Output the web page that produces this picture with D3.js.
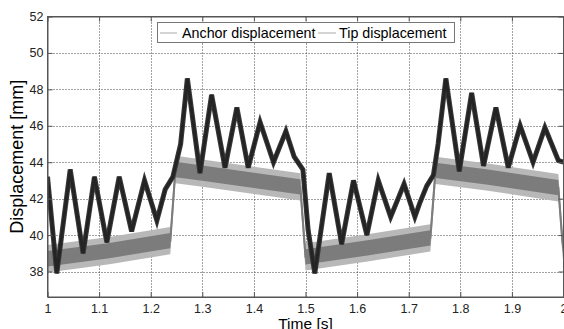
<!DOCTYPE html>
<html><head><meta charset="utf-8">
<script src="https://cdn.jsdelivr.net/npm/d3@7"></script>
<style>body{margin:0;background:#fff}svg{display:block}text{font-family:"Liberation Sans",Arial,sans-serif}</style>
</head><body>
<script>
// Data
const xTicks = [1, 1.1, 1.2, 1.3, 1.4, 1.5, 1.6, 1.7, 1.8, 1.9, 2];
const xTickLabels = ["1","1.1","1.2","1.3","1.4","1.5","1.6","1.7","1.8","1.9","2"];
const yTicks = [38, 40, 42, 44, 46, 48, 50, 52];
const seriesNames = ["Anchor displacement", "Tip displacement"];

const anchorTime  = [1.000, 1.120, 1.238, 1.248, 1.300, 1.400, 1.490, 1.500, 1.620, 1.742, 1.752, 1.850, 1.990, 1.998, 2.000];
const anchorValue = [38.7, 39.15, 39.7, 43.6, 43.4, 43.0, 42.65, 38.8, 39.3, 39.85, 43.55, 43.2, 42.6, 39.6, 39.3];

const tipTime  = [1.000, 1.018, 1.044, 1.069, 1.091, 1.115, 1.139, 1.163, 1.188, 1.212, 1.228, 1.243, 1.258, 1.271,
                  1.2955, 1.318, 1.344, 1.367, 1.389, 1.412, 1.438, 1.462, 1.478, 1.495, 1.505, 1.518,
                  1.546, 1.570, 1.593, 1.619, 1.641, 1.665, 1.691, 1.712, 1.722, 1.735, 1.748, 1.757, 1.772,
                  1.798, 1.822, 1.845, 1.869, 1.893, 1.916, 1.941, 1.964, 1.990, 2.000];
const tipValue = [43.2, 37.9, 43.6, 39.0, 43.2, 39.6, 43.2, 40.2, 43.0, 40.8, 42.5, 43.2, 45.0, 48.6,
                  43.4, 47.7, 43.7, 47.0, 43.7, 46.2, 44.0, 45.7, 44.3, 43.6, 40.3, 37.9,
                  43.4, 39.5, 43.0, 40.0, 43.0, 41.0, 42.8, 41.0, 41.8, 42.7, 43.3, 45.0, 48.6,
                  43.5, 47.8, 43.8, 47.0, 43.7, 46.0, 44.0, 45.9, 44.1, 44.0];

const W = 564, H = 329;
const m = {left: 47.5, right: 563.5, top: 16.5, bottom: 297};
const x = d3.scaleLinear().domain([1, 2]).range([m.left, m.right]);
const y = d3.scaleLinear().domain([36.6, 52]).range([m.bottom, m.top]);

const svg = d3.select("body").append("svg").attr("width", W).attr("height", H);

svg.append("defs").append("clipPath").attr("id", "clip")
  .append("rect").attr("x", m.left).attr("y", m.top)
  .attr("width", m.right - m.left).attr("height", m.bottom - m.top);

// grid
const grid = svg.append("g").attr("stroke", "#444").attr("stroke-width", 1).attr("stroke-dasharray", "1,2");
grid.selectAll(".gx").data(xTicks.slice(1, -1)).join("line")
  .attr("x1", d => Math.round(x(d)) + 0.5).attr("x2", d => Math.round(x(d)) + 0.5)
  .attr("y1", m.top).attr("y2", m.bottom);
grid.selectAll(".gy").data(yTicks.filter(d => d < 52)).join("line")
  .attr("y1", d => Math.round(y(d)) + 0.5).attr("y2", d => Math.round(y(d)) + 0.5)
  .attr("x1", m.left).attr("x2", m.right);

// series
const plot = svg.append("g").attr("clip-path", "url(#clip)");
function band(times, vals, half) {
  const pts = times.map((t, i) => [t, vals[i]]);
  return d3.area().x(d => x(d[0])).y0(d => y(d[1] - half)).y1(d => y(d[1] + half))(pts);
}
function lineOf(times, vals) {
  return d3.line().x((d, i) => x(times[i])).y(d => y(d))(vals);
}
plot.append("path").attr("d", band(anchorTime, anchorValue, 0.75)).attr("fill", "#b8b8b8");
plot.append("path").attr("d", band(anchorTime, anchorValue, 0.42)).attr("fill", "#7c7c7c");
plot.append("path").attr("d", lineOf(anchorTime, anchorValue)).attr("fill", "none")
  .attr("stroke", "#7c7c7c").attr("stroke-width", 2);
plot.append("path").attr("d", lineOf(tipTime, tipValue)).attr("fill", "none")
  .attr("stroke", "#3a3a3a").attr("stroke-width", 5)
  .attr("stroke-linejoin", "miter").attr("stroke-miterlimit", 4);
plot.append("path").attr("d", lineOf(tipTime, tipValue)).attr("fill", "none")
  .attr("stroke", "#242424").attr("stroke-width", 3)
  .attr("stroke-linejoin", "miter").attr("stroke-miterlimit", 4);

// axes (box with inward ticks)
const axisCol = "#555";
const gxB = svg.append("g").attr("transform", `translate(0,${m.bottom})`)
  .call(d3.axisBottom(x).tickValues(xTicks).tickFormat((d, i) => xTickLabels[i]).tickSizeInner(-5).tickSizeOuter(0).tickPadding(7));
const gxT = svg.append("g").attr("transform", `translate(0,${m.top})`)
  .call(d3.axisTop(x).tickValues(xTicks).tickFormat("").tickSizeInner(-5).tickSizeOuter(0));
const gyL = svg.append("g").attr("transform", `translate(${m.left},0)`)
  .call(d3.axisLeft(y).tickValues(yTicks).tickSizeInner(-5).tickSizeOuter(0).tickPadding(4));
const gyR = svg.append("g").attr("transform", `translate(${m.right},0)`)
  .call(d3.axisRight(y).tickValues(yTicks).tickFormat("").tickSizeInner(-5).tickSizeOuter(0));
[gxB, gxT, gyL, gyR].forEach(g => {
  g.selectAll("path,line").attr("stroke", axisCol);
  g.selectAll("text").attr("fill", "#222").style("font-size", "12.5px");
});
svg.append("rect").attr("x", m.left).attr("y", m.top).attr("width", m.right - m.left)
  .attr("height", m.bottom - m.top).attr("fill", "none").attr("stroke", axisCol);

// axis labels
svg.append("text").attr("x", (m.left + m.right) / 2).attr("y", 329)
  .attr("text-anchor", "middle").style("font-size", "15.5px").attr("fill", "#000").text("Time [s]");
svg.append("text").attr("transform", `translate(23,${(m.top + m.bottom) / 2}) rotate(-90)`)
  .attr("text-anchor", "middle").style("font-size", "18px").attr("fill", "#000").text("Displacement [mm]");

// legend
const lg = svg.append("g");
lg.append("rect").attr("x", 157.5).attr("y", 22.5).attr("width", 297).attr("height", 20)
  .attr("fill", "#fff").attr("stroke", "#777");
const legX = [[160, 177, 182], [318, 336, 339]];
seriesNames.forEach((n, i) => {
  lg.append("line").attr("x1", legX[i][0]).attr("x2", legX[i][1]).attr("y1", 33).attr("y2", 33)
    .attr("stroke", "#aaa").attr("stroke-width", 1);
  lg.append("text").attr("x", legX[i][2]).attr("y", 38).style("font-size", "14.3px").attr("fill", "#000").text(n);
});
</script>
</body></html>
